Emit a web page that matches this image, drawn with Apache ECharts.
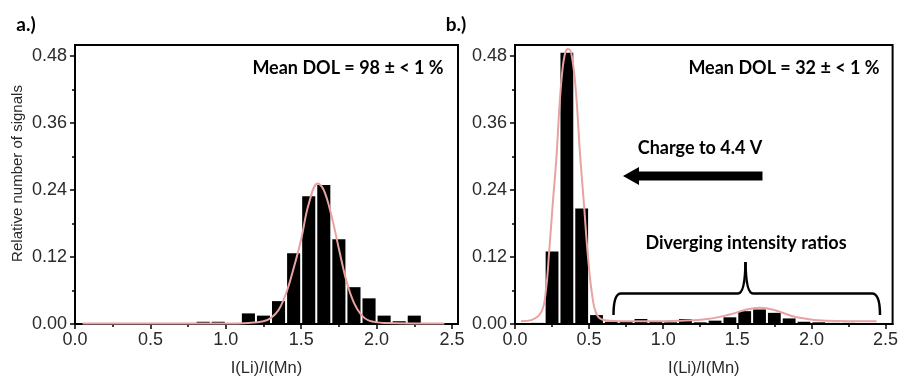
<!DOCTYPE html>
<html><head><meta charset="utf-8">
<script src="https://cdn.jsdelivr.net/npm/echarts@6/dist/echarts.min.js"></script>
<style>html,body{margin:0;padding:0;background:#fff}#c{width:901px;height:382px}</style>
</head><body><div id="c"></div>
<script>
// ---- data ----
const binWidth = 0.1;
// panel a
const binCentersA = [0.85, 0.95, 1.15, 1.25, 1.35, 1.45, 1.55, 1.65, 1.75, 1.85, 1.95, 2.05, 2.15, 2.25];
const countsA     = [0.004, 0.004, 0.019, 0.015, 0.041, 0.127, 0.229, 0.249, 0.152, 0.066, 0.046, 0.015, 0.005, 0.015];
const fitXA = [0.05, 0.5, 1.0, 1.15, 1.25, 1.3, 1.35, 1.4, 1.45, 1.5, 1.55, 1.61, 1.65, 1.7, 1.75, 1.8, 1.85, 1.9, 1.95, 2.05, 2.45];
const fitYA = [0.001, 0.001, 0.001, 0.002, 0.005, 0.011, 0.025, 0.055, 0.100, 0.152, 0.215, 0.252, 0.240, 0.195, 0.135, 0.077, 0.038, 0.016, 0.006, 0.002, 0.001];
// panel b
const binCentersB = [0.15, 0.25, 0.35, 0.45, 0.55, 0.65, 0.75, 0.85, 0.95, 1.05, 1.15, 1.25, 1.35, 1.45, 1.55, 1.65, 1.75, 1.85, 1.95, 2.05, 2.15, 2.25];
const countsB     = [0.002, 0.130, 0.486, 0.207, 0.016, 0.004, 0.004, 0.009, 0.005, 0.003, 0.009, 0.003, 0.006, 0.012, 0.023, 0.026, 0.020, 0.010, 0.004, 0.003, 0.002, 0.002];
const fitXB = [0.04, 0.11, 0.18, 0.21, 0.23, 0.255, 0.28, 0.30, 0.32, 0.34, 0.358, 0.38, 0.41, 0.44, 0.465, 0.49, 0.52, 0.55, 0.60, 0.70, 0.90, 1.10, 1.30, 1.45, 1.55, 1.65, 1.75, 1.90, 2.10, 2.44];
const fitYB = [0.005, 0.007, 0.023, 0.064, 0.128, 0.216, 0.300, 0.390, 0.455, 0.487, 0.493, 0.485, 0.420, 0.300, 0.216, 0.128, 0.053, 0.018, 0.007, 0.005, 0.005, 0.006, 0.009, 0.017, 0.025, 0.029, 0.025, 0.012, 0.006, 0.005];
// axes
const xMajorTicks = [0, 0.5, 1.0, 1.5, 2.0, 2.5];
const xMinorTicks = [0.25, 0.75, 1.25, 1.75, 2.25];
const yMajorTicks = [0, 0.12, 0.24, 0.36, 0.48];
const yMinorTicks = [0.06, 0.18, 0.30, 0.42];
const xTitle = 'I(Li)/I(Mn)';
const yTitle = 'Relative number of signals';
const panelLabels = ['a.)', 'b.)'];
const meanLabels = ['Mean DOL = 98 ± < 1 %', 'Mean DOL = 32 ± < 1 %'];
const arrowLabel = 'Charge to 4.4 V';
const braceLabel = 'Diverging intensity ratios';

// ---- chart ----
const chart = echarts.init(document.getElementById('c'));
const sansFamily = '"Liberation Sans", Arial, sans-serif';
const tickFont = {fontFamily: sansFamily, fontSize: 18, color: '#2a2a2a'};
const xMax = [2.54, 2.548];
const grids = [
  {left: 75, top: 45, width: 383, height: 285},
  {left: 515, top: 45, width: 384, height: 285}
];
const xAxes = [], yAxes = [];
grids.forEach((g, i) => {
  xAxes.push({
    gridIndex: i, type: 'value', position: 'bottom', min: 0, max: xMax[i],
    axisLine: {show: true, lineStyle: {color: '#000', width: 2}},
    axisTick: {show: true, customValues: xMajorTicks, length: 5, lineStyle: {color: '#000', width: 1.5}},
    axisLabel: Object.assign({customValues: xMajorTicks, margin: 7, formatter: v => v.toFixed(1)}, tickFont),
    splitLine: {show: false},
    name: xTitle, nameLocation: 'middle', nameGap: 36,
    nameTextStyle: {fontFamily: sansFamily, fontSize: 16.5, color: '#2a2a2a'}
  });
  xAxes.push({
    gridIndex: i, type: 'value', position: 'bottom', min: 0, max: xMax[i],
    axisLine: {show: false},
    axisTick: {show: true, customValues: xMinorTicks, length: 3, lineStyle: {color: '#000', width: 1.5}},
    axisLabel: {show: false}, splitLine: {show: false}
  });
  const ya = {
    gridIndex: i, type: 'value', position: 'left', min: 0, max: 0.5,
    axisLine: {show: true, lineStyle: {color: '#000', width: 2}},
    axisTick: {show: true, customValues: yMajorTicks, length: 5, lineStyle: {color: '#000', width: 1.5}},
    axisLabel: Object.assign({customValues: yMajorTicks, margin: 8, formatter: v => v.toFixed(2)}, tickFont),
    splitLine: {show: false}
  };
  if (i === 0) {
    ya.name = yTitle; ya.nameLocation = 'middle'; ya.nameGap = 50;
    ya.nameTextStyle = {fontFamily: sansFamily, fontSize: 15, color: '#2a2a2a', padding: [0, 0, 0, 22]};
  }
  yAxes.push(ya);
  yAxes.push({
    gridIndex: i, type: 'value', position: 'left', min: 0, max: 0.5,
    axisLine: {show: false},
    axisTick: {show: true, customValues: yMinorTicks, length: 3, lineStyle: {color: '#000', width: 1.5}},
    axisLabel: {show: false}, splitLine: {show: false}
  });
});

function barData(centers, values) {
  return centers.map((c, k) => [c - binWidth / 2, c + binWidth / 2, values[k]]);
}
function renderBar(params, api) {
  const p0 = api.coord([api.value(0), 0]);
  const p1 = api.coord([api.value(1), api.value(2)]);
  return {
    type: 'rect',
    shape: {x: p0[0] + 1, y: p1[1], width: p1[0] - p0[0] - 2, height: p0[1] - p1[1]},
    style: {fill: '#000'}
  };
}
const fitColor = '#e9a2a2';
const series = [
  {type: 'custom', xAxisIndex: 0, yAxisIndex: 0, renderItem: renderBar, encode: {x: [0, 1], y: 2}, data: barData(binCentersA, countsA), z: 2},
  {type: 'line', xAxisIndex: 0, yAxisIndex: 0, data: fitXA.map((x, k) => [x, fitYA[k]]), smooth: 0.4, symbol: 'none', lineStyle: {color: fitColor, width: 2}, z: 3},
  {type: 'custom', xAxisIndex: 2, yAxisIndex: 2, renderItem: renderBar, encode: {x: [0, 1], y: 2}, data: barData(binCentersB, countsB), z: 2},
  {type: 'line', xAxisIndex: 2, yAxisIndex: 2, data: fitXB.map((x, k) => [x, fitYB[k]]), smooth: 0.4, symbol: 'none', lineStyle: {color: fitColor, width: 2}, z: 3}
];

const boldFont = 'bold 18px Lato, "Open Sans", sans-serif';
function txt(text, x, y, font) {
  return {type: 'text', x: x, y: y, z: 10, style: {text: text, font: font, fill: '#000', textAlign: 'center', textVerticalAlign: 'middle'}};
}
const braceStyle = {stroke: '#000', lineWidth: 2.5, fill: 'none'};
const graphic = [
  txt(panelLabels[0], 26, 25, 'bold 19px Lato, sans-serif'),
  txt(panelLabels[1], 456, 25, 'bold 19px Lato, sans-serif'),
  txt(meanLabels[0], 348, 68, boldFont),
  txt(meanLabels[1], 784, 68, boldFont),
  txt(arrowLabel, 700, 148, boldFont),
  txt(braceLabel, 746, 243, boldFont),
  {type: 'polygon', z: 10, shape: {points: [[623, 176], [639, 167], [639, 171.5], [762.5, 171.5], [762.5, 180.5], [639, 180.5], [639, 185]]}, style: {fill: '#000'}},
  {type: 'bezierCurve', z: 10, shape: {x1: 613.5, y1: 315, cpx1: 613.5, cpy1: 293.5, x2: 621, y2: 293.5}, style: braceStyle},
  {type: 'line', z: 10, shape: {x1: 621, y1: 293.5, x2: 738, y2: 293.5}, style: braceStyle},
  {type: 'bezierCurve', z: 10, shape: {x1: 738, y1: 293.5, cpx1: 745, cpy1: 293.5, x2: 745.5, y2: 262}, style: braceStyle},
  {type: 'bezierCurve', z: 10, shape: {x1: 745.5, y1: 262, cpx1: 746, cpy1: 293.5, x2: 753, y2: 293.5}, style: braceStyle},
  {type: 'line', z: 10, shape: {x1: 753, y1: 293.5, x2: 872, y2: 293.5}, style: braceStyle},
  {type: 'bezierCurve', z: 10, shape: {x1: 872, y1: 293.5, cpx1: 880, cpy1: 293.5, x2: 880, y2: 315}, style: braceStyle}
];

chart.setOption({
  animation: false,
  backgroundColor: '#fff',
  grid: grids.map(g => Object.assign({show: true, borderColor: '#000', borderWidth: 2, containLabel: false}, g)),
  xAxis: xAxes,
  yAxis: yAxes,
  series: series,
  graphic: graphic
});
</script></body></html>
